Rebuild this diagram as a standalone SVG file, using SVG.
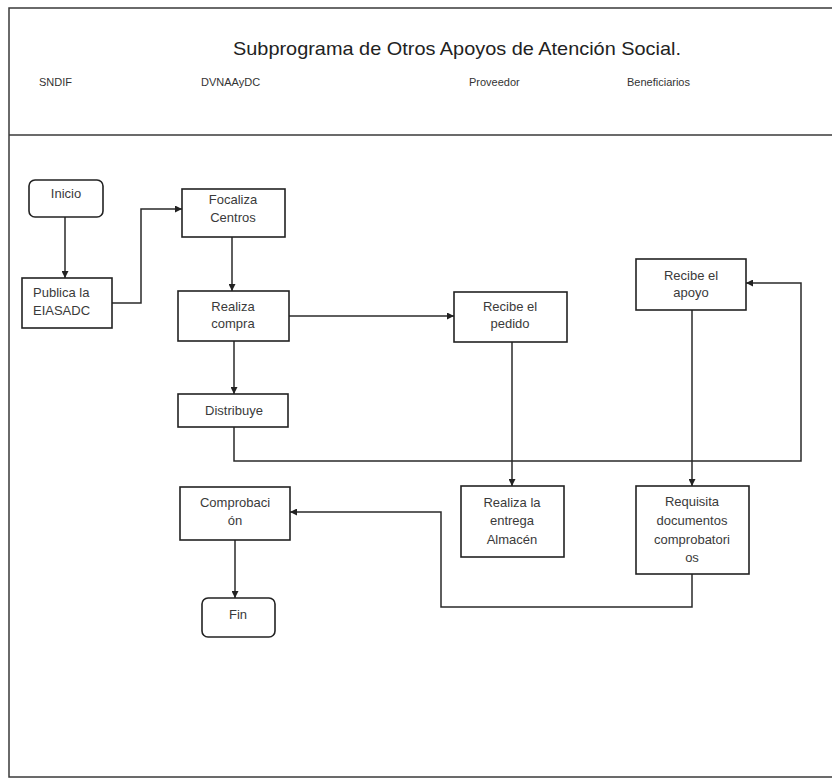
<svg xmlns="http://www.w3.org/2000/svg" width="832" height="779" viewBox="0 0 832 779">
<defs>
<style>
.frame{fill:none;stroke:#3a3a3a;stroke-width:1.5}
.box{fill:#fff;stroke:#222;stroke-width:1.6}
.t{font-family:"Liberation Sans",Arial,sans-serif;font-size:13px;fill:#3a3a3a;text-anchor:middle}
.tl{font-family:"Liberation Sans",Arial,sans-serif;font-size:13px;fill:#3a3a3a}
.lane{font-family:"Liberation Sans",Arial,sans-serif;font-size:11px;fill:#333}
.title{font-family:"Liberation Sans",Arial,sans-serif;font-size:19px;fill:#222}
.c{fill:none;stroke:#2a2a2a;stroke-width:1.5}
</style>
<marker id="ah" viewBox="0 0 10 10" refX="10" refY="5" markerWidth="7" markerHeight="7" markerUnits="userSpaceOnUse" orient="auto">
<path d="M0,0 L10,5 L0,10 z" fill="#222"/>
</marker>
</defs>
<rect x="0" y="0" width="832" height="779" fill="#fff"/>
<g id="frame">
<rect class="frame" x="9" y="8" width="830" height="769"/>
<line class="frame" x1="9" y1="135" x2="832" y2="135"/>
<text class="title" x="233" y="55" textLength="448" lengthAdjust="spacingAndGlyphs">Subprograma de Otros Apoyos de Atención Social.</text>
<text class="lane" x="39" y="86">SNDIF</text>
<text class="lane" x="201" y="86">DVNAAyDC</text>
<text class="lane" x="469" y="86">Proveedor</text>
<text class="lane" x="627" y="86">Beneficiarios</text>
</g>
<g id="connectors">
<path class="c" marker-end="url(#ah)" d="M65,217 V278"/>
<path class="c" marker-end="url(#ah)" d="M112,303 H141 V209 H182"/>
<path class="c" marker-end="url(#ah)" d="M232,237 V291"/>
<path class="c" marker-end="url(#ah)" d="M289,316 H454"/>
<path class="c" marker-end="url(#ah)" d="M234,341 V394"/>
<path class="c" marker-end="url(#ah)" d="M234,427 V461 H801 V283 H746"/>
<path class="c" marker-end="url(#ah)" d="M512,342 V486"/>
<path class="c" marker-end="url(#ah)" d="M692,310 V486"/>
<path class="c" marker-end="url(#ah)" d="M692,574 V607 H441 V512 H290"/>
<path class="c" marker-end="url(#ah)" d="M235,540 V598"/>
</g>
<g id="inicio">
<rect class="box" x="29" y="180" width="74" height="37" rx="6"/>
<text class="t" x="66" y="198">Inicio</text>
</g>
<g id="publica">
<rect class="box" x="22" y="278" width="90" height="50"/>
<text class="tl" x="33" y="297">Publica la</text>
<text class="tl" x="33" y="315">EIASADC</text>
</g>
<g id="focaliza">
<rect class="box" x="182" y="189" width="103" height="48"/>
<text class="t" x="233" y="204">Focaliza</text>
<text class="t" x="233" y="222">Centros</text>
</g>
<g id="realiza_compra">
<rect class="box" x="178" y="291" width="111" height="50"/>
<text class="t" x="233" y="311">Realiza</text>
<text class="t" x="233" y="328">compra</text>
</g>
<g id="distribuye">
<rect class="box" x="178" y="394" width="110" height="33"/>
<text class="t" x="234" y="415">Distribuye</text>
</g>
<g id="recibe_pedido">
<rect class="box" x="454" y="292" width="113" height="50"/>
<text class="t" x="510" y="311">Recibe el</text>
<text class="t" x="510" y="328">pedido</text>
</g>
<g id="recibe_apoyo">
<rect class="box" x="636" y="259" width="110" height="51"/>
<text class="t" x="691" y="280">Recibe el</text>
<text class="t" x="691" y="297">apoyo</text>
</g>
<g id="realiza_entrega">
<rect class="box" x="461" y="486" width="103" height="71"/>
<text class="t" x="512" y="507">Realiza la</text>
<text class="t" x="512" y="525">entrega</text>
<text class="t" x="512" y="544">Almacén</text>
</g>
<g id="requisita">
<rect class="box" x="636" y="486" width="113" height="88"/>
<text class="t" x="692" y="506">Requisita</text>
<text class="t" x="692" y="525">documentos</text>
<text class="t" x="692" y="544">comprobatori</text>
<text class="t" x="692" y="562">os</text>
</g>
<g id="comprobacion">
<rect class="box" x="180" y="487" width="110" height="53"/>
<text class="t" x="235" y="507">Comprobaci</text>
<text class="t" x="235" y="525">ón</text>
</g>
<g id="fin">
<rect class="box" x="202" y="598" width="73" height="39" rx="6"/>
<text class="t" x="238" y="619">Fin</text>
</g>
</svg>
